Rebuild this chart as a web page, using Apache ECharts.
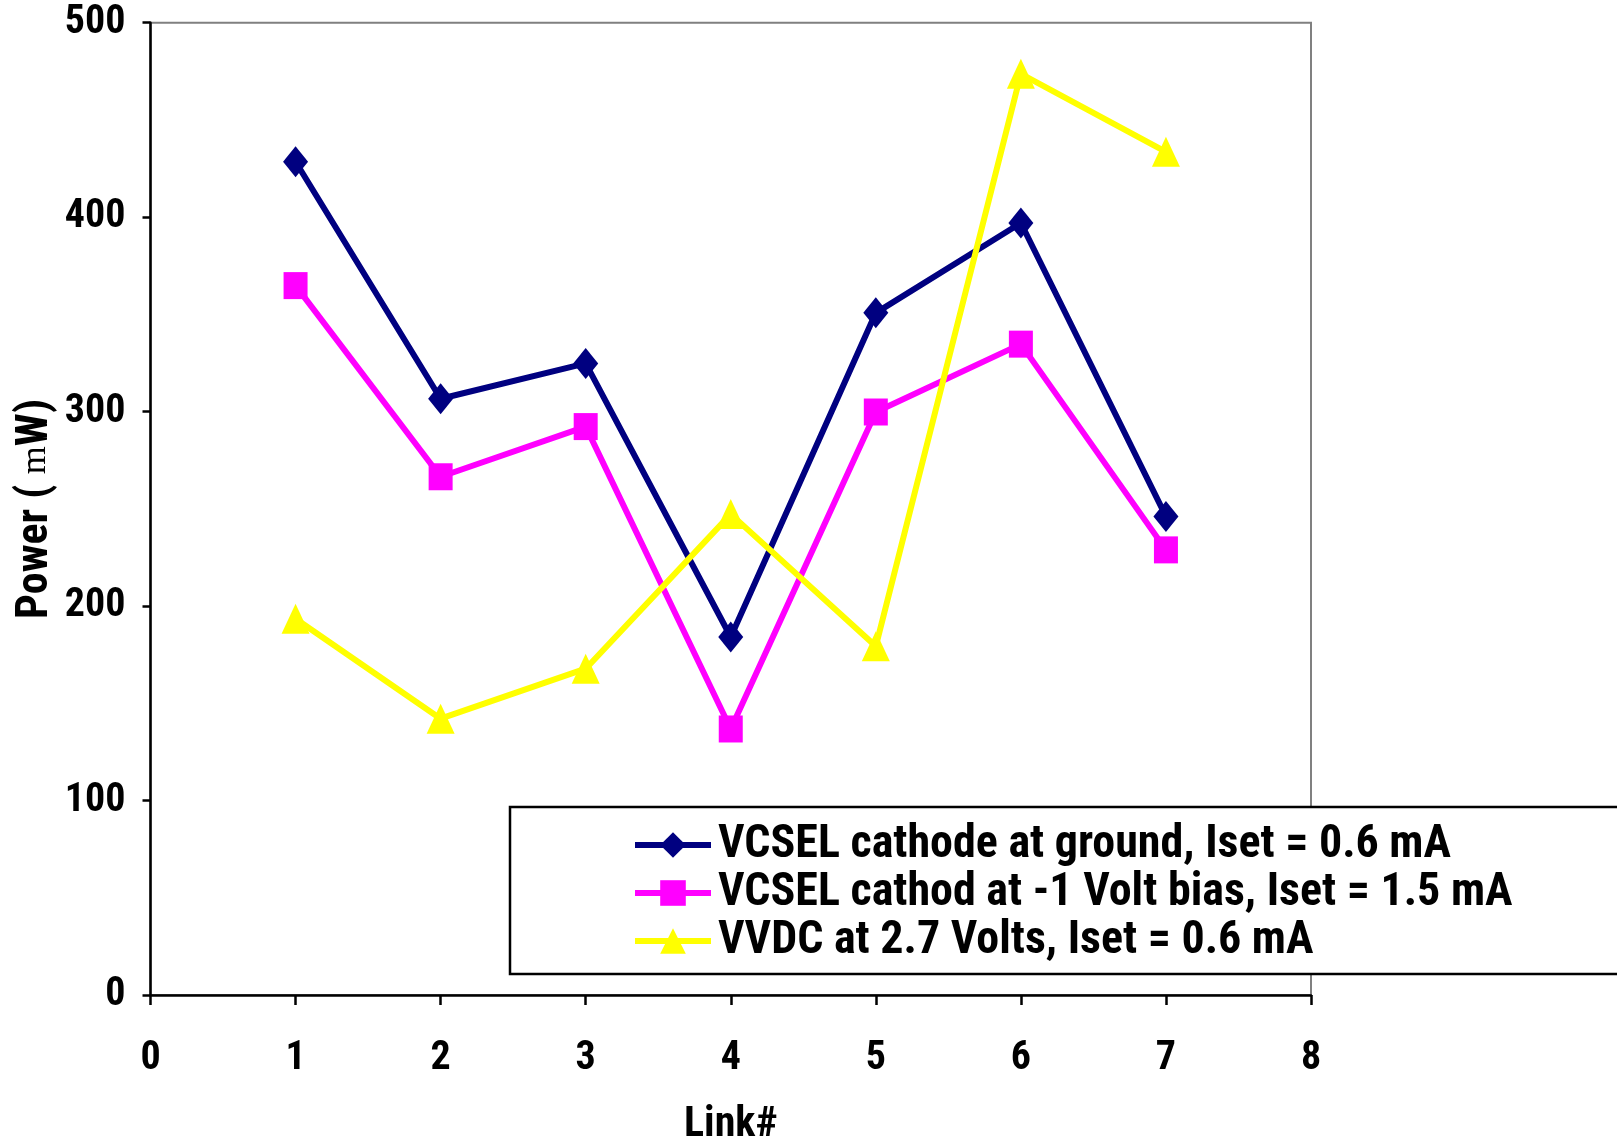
<!DOCTYPE html>
<html>
<head>
<meta charset="utf-8">
<script src="https://cdn.jsdelivr.net/npm/echarts@6/dist/echarts.min.js"></script>
<style>
  html, body { margin: 0; padding: 0; background: #fff; }
  #chart { width: 1617px; height: 1142px; }
</style>
</head>
<body>
<div id="chart"></div>
<script>
const links = [1, 2, 3, 4, 5, 6, 7];
const groundPower = [428.5, 306.6, 324.8, 184.1, 350.8, 397.0, 246.1];
const biasPower = [364.8, 266.5, 292.3, 136.8, 299.8, 334.7, 228.9];
const vvdcPower = [193.5, 142.1, 167.8, 247.3, 179.3, 473.7, 433.6];

const seriesNames = [
  'VCSEL cathode at ground, Iset = 0.6 mA',
  'VCSEL cathod at -1 Volt bias, Iset = 1.5 mA',
  'VVDC at 2.7 Volts, Iset = 0.6 mA',
];

// narrow bold face, close to the original's Arial Narrow
const font = 'Roboto, "Roboto Condensed", sans-serif';
const weight = 'bold condensed';

function pairs(values) {
  return links.map((x, i) => [x, values[i]]);
}

function makeSeries(name, values, color, symbol, symbolSize) {
  return {
    name: name,
    type: 'line',
    data: pairs(values),
    symbol: symbol,
    symbolSize: symbolSize,
    showAllSymbol: true,
    animation: false,
    lineStyle: {color: color, width: 6},
    itemStyle: {color: color},
  };
}

const chart = echarts.init(document.getElementById('chart'));
chart.setOption({
  backgroundColor: '#fff',
  animation: false,
  textStyle: {fontFamily: font},
  grid: {
    left: 150.5,
    right: 306,
    top: 22.7,
    bottom: 147,
    outerBoundsMode: 'none',
    show: true,
    borderColor: '#808080',
    borderWidth: 2,
  },
  xAxis: {
    type: 'value',
    min: 0,
    max: 8,
    interval: 1,
    name: 'Link#',
    nameLocation: 'middle',
    nameGap: 109,
    nameMoveOverlap: false,
    nameTextStyle: {fontFamily: font, fontWeight: weight, fontSize: 42, color: '#000'},
    axisLine: {lineStyle: {color: '#000', width: 2.5}},
    axisTick: {length: 10, lineStyle: {color: '#000', width: 2.5}},
    axisLabel: {margin: 44, fontFamily: font, fontWeight: weight, fontSize: 40, color: '#000'},
    splitLine: {show: false},
  },
  yAxis: {
    type: 'value',
    min: 0,
    max: 500,
    interval: 100,
    name: 'Power ( {m|m}W)',
    nameLocation: 'middle',
    nameGap: 93,
    nameMoveOverlap: false,
    nameTextStyle: {
      fontFamily: font, fontWeight: weight, fontSize: 44, color: '#000',
      rich: {
        m: {fontFamily: '"Liberation Serif", serif', fontWeight: 'normal', fontSize: 36, color: '#000'},
      },
    },
    axisLine: {lineStyle: {color: '#000', width: 2.5}},
    axisTick: {length: 8, lineStyle: {color: '#000', width: 2.5}},
    axisLabel: {margin: 25, fontFamily: font, fontWeight: weight, fontSize: 40, color: '#000'},
    splitLine: {show: false},
  },
  legend: {
    orient: 'vertical',
    left: 510,
    top: 807,
    padding: [15, 300, 10, 122],
    itemGap: 2,
    itemWidth: 76,
    itemHeight: 32,
    borderColor: '#000',
    borderWidth: 2.5,
    backgroundColor: '#fff',
    selectedMode: false,
    lineStyle: {width: 6},
    textStyle: {fontFamily: font, fontWeight: weight, fontSize: 46, lineHeight: 44, color: '#000', padding: [0, 0, 0, 2]},
    data: seriesNames,
  },
  series: [
    makeSeries(seriesNames[0], groundPower, '#000080', 'diamond', [25, 31]),
    makeSeries(seriesNames[1], biasPower, '#ff00ff', 'rect', [24, 27]),
    makeSeries(seriesNames[2], vvdcPower, '#ffff00', 'triangle', [28, 30]),
  ],
});
</script>
</body>
</html>
